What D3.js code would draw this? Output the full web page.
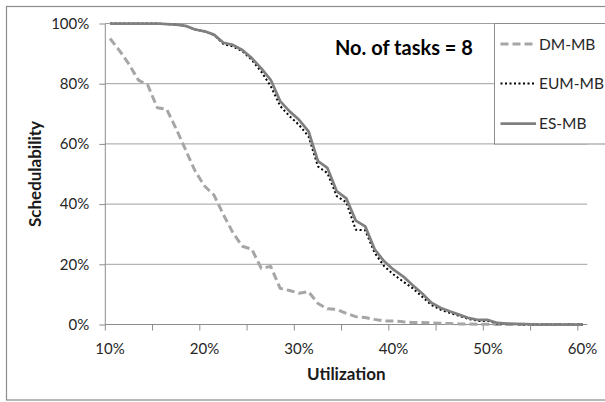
<!DOCTYPE html>
<html>
<head>
<meta charset="utf-8">
<script src="https://cdn.jsdelivr.net/npm/d3@7"></script>
<style>
  html, body { margin: 0; padding: 0; background: #fff; }
  svg { display: block; font-family: "Lato", "Open Sans", sans-serif; }
</style>
</head>
<body>
<div id="chart"></div>
<script>
// utilization categories (%)
const categories = [10, 11, 12, 13, 14, 15, 16, 17, 18, 19, 20, 21, 22, 23, 24, 25, 26, 27, 28, 29, 30,
  31, 32, 33, 34, 35, 36, 37, 38, 39, 40, 41, 42, 43, 44, 45, 46, 47, 48, 49, 50,
  51, 52, 53, 54, 55, 56, 57, 58, 59, 60];
const xTickLabels = [10, 20, 30, 40, 50, 60];
const yTickValues = [0, 20, 40, 60, 80, 100];

// schedulability (%) per series
const dmMB = [95, 91, 86.5, 81.2, 79.5, 72, 71.5, 65, 58, 51, 46, 43, 36.5, 30.5, 26, 25, 18.7, 19.3, 12, 11.3, 10.4,
  10.9, 7, 5.2, 5, 3.7, 2.6, 2.3, 1.7, 1.2, 1.2, 0.9, 0.7, 0.7, 0.5, 0.4, 0.3, 0.2, 0.2, 0.1, 0.1,
  0, 0, 0, 0, 0, 0, 0, 0, 0, 0];
const eumMB = [100, 100, 100, 100, 100, 100, 99.8, 99.6, 99.2, 98, 97.4, 96.2, 93.2, 92.4, 90.8, 87.9, 84, 79.2, 72.6, 69.2, 66.3,
  62.5, 52.5, 50.3, 42.6, 40.6, 31.5, 31.3, 23.8, 19.4, 16.6, 14.3, 12.1, 9.3, 6.5, 4.9, 3.8, 2.8, 1.8, 1.2, 1.2,
  0.3, 0.2, 0.1, 0, 0, 0, 0, 0, 0, 0];
const esMB = [100, 100, 100, 100, 100, 100, 99.8, 99.6, 99.2, 98, 97.4, 96.3, 93.6, 92.9, 91.2, 88.5, 85.1, 81.3, 74.2, 70.8, 68,
  64.2, 54.3, 52, 44.2, 41.9, 34.5, 32.6, 25, 21, 18.2, 16, 13.1, 10.4, 7.2, 5.5, 4.3, 3.2, 2.1, 1.5, 1.5,
  0.5, 0.3, 0.2, 0.1, 0, 0, 0, 0, 0, 0];

const seriesNames = ["DM-MB", "EUM-MB", "ES-MB"];

const W = 605, H = 402;
const plot = {left: 105.3, right: 587.3, top: 23.5, bottom: 324.5};

const svg = d3.select("#chart").append("svg")
  .attr("width", W).attr("height", H);

// outer chart border
svg.append("rect")
  .attr("x", 6.5).attr("y", 6.5)
  .attr("width", 620).attr("height", 393.5)
  .attr("fill", "#fff")
  .attr("stroke", "#8c8c8c").attr("stroke-width", 1.2);

const x = d3.scaleBand().domain(categories).range([plot.left, plot.right]).padding(0);
const y = d3.scaleLinear().domain([0, 100]).range([plot.bottom, plot.top]);
const cx = d => x(d) + x.bandwidth() / 2;

// gridlines
svg.append("g").selectAll("line")
  .data(yTickValues.filter(v => v > 0))
  .join("line")
  .attr("x1", plot.left).attr("x2", plot.right)
  .attr("y1", d => y(d)).attr("y2", d => y(d))
  .attr("stroke", "#a0a0a0").attr("stroke-width", 1);

// y axis
const yAxis = svg.append("g")
  .attr("transform", `translate(${plot.left},0)`)
  .call(d3.axisLeft(y).tickValues(yTickValues).tickFormat(d => d + "%").tickSize(6).tickPadding(10));
yAxis.select(".domain").attr("stroke", "#8c8c8c").attr("d", `M0,${plot.top}V${plot.bottom}`);
yAxis.selectAll(".tick line").attr("stroke", "#8c8c8c");
yAxis.selectAll("text").attr("font-size", 15).attr("fill", "#262626").attr("font-family", "Lato, 'Open Sans', sans-serif");

// x axis line + tick marks at category boundaries
svg.append("line")
  .attr("x1", plot.left).attr("x2", plot.right)
  .attr("y1", plot.bottom).attr("y2", plot.bottom)
  .attr("stroke", "#8c8c8c");
svg.append("g").selectAll("line")
  .data(categories.filter((c, i) => i % 5 === 0))
  .join("line")
  .attr("x1", d => x(d)).attr("x2", d => x(d))
  .attr("y1", plot.bottom).attr("y2", plot.bottom + 6)
  .attr("stroke", "#8c8c8c");
svg.append("g").selectAll("text")
  .data(xTickLabels)
  .join("text")
  .attr("x", d => cx(d)).attr("y", 353.5)
  .attr("text-anchor", "middle")
  .attr("font-size", 15).attr("fill", "#262626")
  .text(d => d + "%");

// axis titles
svg.append("text")
  .attr("x", (plot.left + plot.right) / 2).attr("y", 380)
  .attr("text-anchor", "middle")
  .attr("font-size", 17).attr("font-weight", "bold").attr("fill", "#1a1a1a")
  .text("Utilization");
svg.append("text")
  .attr("transform", `translate(41,${(plot.top + plot.bottom) / 2}) rotate(-90)`)
  .attr("text-anchor", "middle")
  .attr("font-size", 17).attr("font-weight", "bold").attr("fill", "#1a1a1a")
  .text("Schedulability");

// series lines
const styles = [
  {data: dmMB, stroke: "#a6a6a6", width: 3, dash: "8,4"},
  {data: eumMB, stroke: "#000", width: 2, dash: "2,2.5"},
  {data: esMB, stroke: "#808080", width: 2.75, dash: null}
];
const line = d3.line()
  .x((d, i) => cx(categories[i]))
  .y(d => y(d));

styles.forEach(s => {
  svg.append("path")
    .datum(s.data)
    .attr("d", line)
    .attr("fill", "none")
    .attr("stroke", s.stroke)
    .attr("stroke-width", s.width)
    .attr("stroke-dasharray", s.dash)
    .attr("stroke-linejoin", "round");
});

// title
svg.append("text")
  .attr("x", 335).attr("y", 55)
  .attr("font-size", 20).attr("font-weight", "bold").attr("fill", "#000")
  .text("No. of tasks = 8");

// legend
const legend = svg.append("g");
legend.append("rect")
  .attr("x", 494.5).attr("y", plot.top)
  .attr("width", 130).attr("height", 144 - plot.top)
  .attr("fill", "#fff").attr("stroke", "#8c8c8c").attr("stroke-width", 1);
const ly = [44, 83.5, 123.5];
styles.forEach((s, i) => {
  legend.append("line")
    .attr("x1", 500.5).attr("x2", 536)
    .attr("y1", ly[i]).attr("y2", ly[i])
    .attr("stroke", s.stroke).attr("stroke-width", s.width)
    .attr("stroke-dasharray", s.dash);
  legend.append("text")
    .attr("x", 539).attr("y", ly[i] + 5.5)
    .attr("font-size", 15.5).attr("fill", "#262626")
    .text(seriesNames[i]);
});
</script>
</body>
</html>
